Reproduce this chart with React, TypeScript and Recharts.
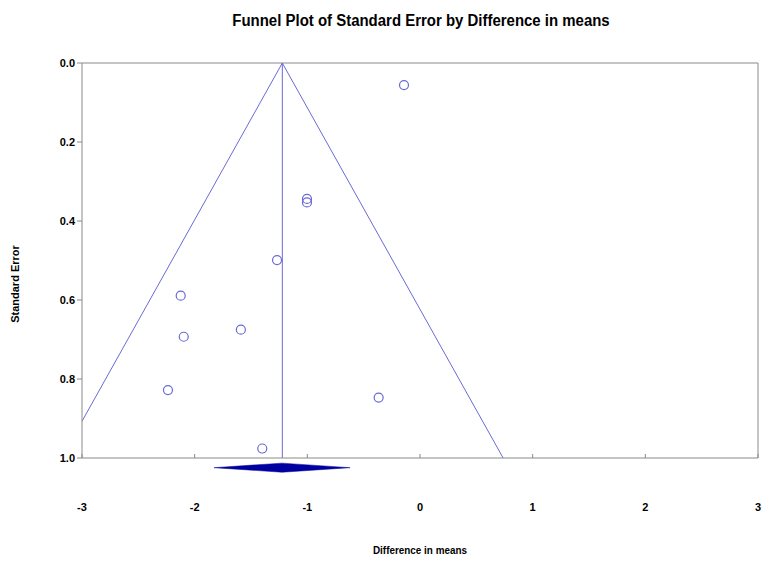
import React from "react";
import {
  ComposedChart,
  Scatter,
  XAxis,
  YAxis,
  ReferenceLine,
  ReferenceArea,
} from "recharts";

// study estimates
const studyDiff = [-0.142, -1.003, -1.003, -1.269, -2.124, -2.097, -1.59, -2.237, -0.367, -1.4];
const studySE = [0.056, 0.344, 0.353, 0.499, 0.589, 0.693, 0.675, 0.828, 0.847, 0.976];

const xTicks = [-3, -2, -1, 0, 1, 2, 3];
const yTicks = [0, 0.2, 0.4, 0.6, 0.8, 1.0];

// pooled estimate and its interval (diamond)
const pooledDiff = -1.222;
const pooledLow = -1.828;
const pooledHigh = -0.621;
const diamondSE = [1.013, 1.036];

// funnel edges
const funnelLeft = [
  { x: -3, y: 0.907 },
  { x: -1.222, y: 0 },
];
const funnelRight = [
  { x: -1.222, y: 0 },
  { x: 0.738, y: 1 },
];

const FONT = "'Liberation Sans', Arial, sans-serif";
const AXIS = "#8a8a8a";
const BLUE = "#6a6ad6";
const NAVY = "#0000a0";

const points = studyDiff.map((x, i) => ({ x, y: studySE[i] }));

const XTick = (props: any) => {
  const { x, y, payload } = props;
  return (
    <g>
      <line x1={x} x2={x} y1={y} y2={y - 4} stroke={AXIS} />
      <text
        x={x}
        y={y + 53}
        textAnchor="middle"
        fontSize={11}
        fontWeight="bold"
        fontFamily={FONT}
        fill="#000"
      >
        {payload.value}
      </text>
    </g>
  );
};

const Circle = (props: any) => {
  const { cx, cy } = props;
  return <circle cx={cx} cy={cy} r={4.5} fill="none" stroke={BLUE} strokeWidth={1.2} />;
};

const Diamond = (props: any) => {
  const { x, y, width, height } = props;
  const midY = y + height / 2;
  const pts = `${x},${midY} ${x + width / 2},${y} ${x + width},${midY} ${x + width / 2},${y + height}`;
  return <polygon points={pts} fill={NAVY} stroke={NAVY} strokeWidth={0.5} />;
};

export default function App() {
  return (
    <div style={{ position: "absolute", left: 0, top: 0, width: 762, height: 561, background: "#fff" }}>
      <div
        style={{
          position: "absolute",
          left: 421,
          top: 12,
          transform: "translateX(-50%) scaleX(0.935)",
          whiteSpace: "nowrap",
          fontFamily: FONT,
          fontWeight: "bold",
          fontSize: 16,
        }}
      >
        Funnel Plot of Standard Error by Difference in means
      </div>
      <div
        style={{
          position: "absolute",
          left: 15,
          top: 284,
          transform: "translate(-50%, -50%) rotate(-90deg)",
          whiteSpace: "nowrap",
          fontFamily: FONT,
          fontWeight: "bold",
          fontSize: 11,
        }}
      >
        Standard Error
      </div>
      <div
        style={{
          position: "absolute",
          left: 420,
          top: 544,
          transform: "translateX(-50%) scaleX(0.9)",
          whiteSpace: "nowrap",
          fontFamily: FONT,
          fontWeight: "bold",
          fontSize: 11,
        }}
      >
        Difference in means
      </div>
      <ComposedChart
        width={762}
        height={561}
        margin={{ top: 63, right: 4, left: 0, bottom: 0 }}
      >
        <XAxis
          type="number"
          dataKey="x"
          domain={[-3, 3]}
          ticks={xTicks}
          interval={0}
          tickSize={0}
          tickMargin={0}
          tick={<XTick />}
          axisLine={{ stroke: AXIS }}
          height={103}
        />
        <YAxis
          type="number"
          dataKey="y"
          domain={[0, 1]}
          reversed
          ticks={yTicks}
          interval={0}
          width={82}
          tickSize={5}
          tickMargin={2}
          tickFormatter={(v: number) => v.toFixed(1)}
          tick={{ fontSize: 11, fontWeight: "bold", fill: "#000", fontFamily: FONT }}
          tickLine={{ stroke: AXIS }}
          axisLine={{ stroke: AXIS }}
        />
        <ReferenceLine y={0} stroke={AXIS} />
        <ReferenceLine x={3} stroke={AXIS} />
        <ReferenceLine segment={funnelLeft} stroke={BLUE} strokeWidth={1} />
        <ReferenceLine segment={funnelRight} stroke={BLUE} strokeWidth={1} />
        <ReferenceLine
          segment={[
            { x: pooledDiff, y: 0 },
            { x: pooledDiff, y: 1 },
          ]}
          stroke={BLUE}
          strokeWidth={1}
        />
        <Scatter data={points} shape={<Circle />} isAnimationActive={false} />
        <ReferenceArea
          x1={pooledLow}
          x2={pooledHigh}
          y1={diamondSE[0]}
          y2={diamondSE[1]}
          ifOverflow="visible"
          shape={<Diamond />}
        />
      </ComposedChart>
    </div>
  );
}
